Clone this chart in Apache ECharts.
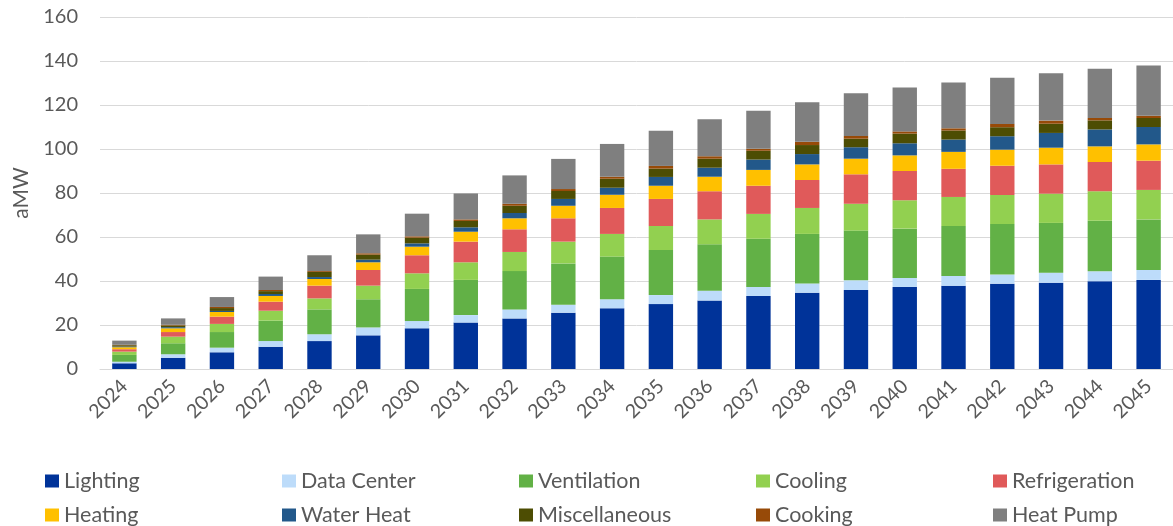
<!DOCTYPE html>
<html>
<head>
<meta charset="utf-8">
<script src="https://cdn.jsdelivr.net/npm/echarts@6/dist/echarts.min.js"></script>
<style>
    html, body { margin: 0; padding: 0; background: #fff; }
    #chart { width: 1173px; height: 526px; }
</style>
</head>
<body>
<div id="chart"></div>
<script>
    var years = ['2024', '2025', '2026', '2027', '2028', '2029', '2030', '2031', '2032', '2033', '2034',
        '2035', '2036', '2037', '2038', '2039', '2040', '2041', '2042', '2043', '2044', '2045'];

    var names = ['Lighting', 'Data Center', 'Ventilation', 'Cooling', 'Refrigeration',
        'Heating', 'Water Heat', 'Miscellaneous', 'Cooking', 'Heat Pump'];

    var colors = ['#003399', '#BDDCFA', '#62B146', '#92D050', '#E05A5A',
        '#FFC000', '#22588A', '#4D4D03', '#974A08', '#7F7F7F'];

    var lighting = [2.6, 5.1, 7.6, 10.1, 12.7, 15.3, 18.5, 21.1, 23.0, 25.6, 27.6,
        29.5, 31.1, 33.2, 34.7, 35.9, 37.3, 37.8, 38.8, 39.2, 39.9, 40.5];
    var dataCenter = [0.7, 1.6, 2.1, 2.6, 3.1, 3.6, 3.3, 3.4, 4.1, 3.6, 4.1,
        4.1, 4.5, 4.1, 4.2, 4.4, 4.1, 4.5, 4.1, 4.6, 4.5, 4.5];
    var ventilation = [3.1, 5.0, 7.1, 9.3, 11.3, 12.8, 14.6, 16.0, 17.4, 18.8, 19.4,
        20.5, 21.1, 21.9, 22.5, 22.6, 22.4, 22.7, 23.0, 22.6, 23.0, 23.0];
    var cooling = [1.5, 3.0, 3.7, 4.5, 5.0, 6.2, 7.1, 8.0, 8.7, 9.9, 10.3,
        10.9, 11.3, 11.3, 11.8, 12.2, 12.9, 13.2, 13.2, 13.3, 13.4, 13.4];
    var refrigeration = [1.1, 2.1, 3.3, 4.1, 5.8, 7.1, 8.2, 9.4, 10.3, 10.6, 11.8,
        12.3, 12.8, 12.8, 12.7, 13.4, 13.3, 12.8, 13.3, 13.3, 13.3, 13.3];
    var heating = [0.9, 1.7, 2.1, 2.6, 3.0, 3.5, 3.9, 4.5, 5.0, 5.7, 6.0,
        6.0, 6.6, 7.2, 7.1, 7.1, 7.1, 7.7, 7.3, 7.6, 7.1, 7.4];
    var waterHeat = [0.3, 0.5, 0.5, 0.9, 0.9, 1.2, 1.5, 2.0, 2.4, 3.1, 3.2,
        4.0, 4.1, 4.7, 4.7, 5.2, 5.5, 5.6, 6.1, 6.7, 7.7, 7.9];
    var misc = [0.6, 0.8, 1.3, 1.3, 2.3, 2.3, 2.6, 2.9, 3.3, 3.6, 4.1,
        3.8, 4.1, 4.0, 4.1, 3.9, 4.4, 4.1, 4.1, 4.2, 4.1, 4.1];
    var cooking = [0.2, 0.3, 0.5, 0.5, 0.4, 0.6, 0.6, 0.7, 0.9, 0.9, 0.9,
        1.2, 1.1, 0.9, 1.5, 1.2, 1.0, 1.0, 1.5, 1.4, 1.1, 1.0];
    var heatPump = [1.9, 2.9, 4.5, 6.1, 7.2, 8.6, 10.3, 11.8, 12.9, 13.7, 14.9,
        16.0, 16.8, 17.3, 17.9, 19.4, 19.9, 20.8, 21.0, 21.5, 22.4, 22.9];

    var values = [lighting, dataCenter, ventilation, cooling, refrigeration,
        heating, waterHeat, misc, cooking, heatPump];

    var textColor = '#595959';
    var font = 'Lato';

    var series = names.map(function (name, i) {
        return {
            name: name,
            type: 'bar',
            stack: 'total',
            barWidth: '50%',
            itemStyle: { color: colors[i] },
            data: values[i]
        };
    });

    // one legend per entry so the five columns sit on a fixed step
    var legends = names.map(function (name, i) {
        return {
            left: 40 + (i % 5) * 237,
            top: i < 5 ? 465 : 499,
            itemWidth: 14,
            itemHeight: 13,
            itemGap: 0,
            icon: 'rect',
            selectedMode: false,
            textStyle: { color: textColor, fontSize: 21.5, fontFamily: font },
            data: [name]
        };
    });

    var chart = echarts.init(document.getElementById('chart'));
    chart.setOption({
        animation: false,
        grid: { left: 100, top: 17, width: 1080, height: 352 },
        legend: legends,
        xAxis: {
            type: 'category',
            data: years,
            axisTick: { show: false },
            axisLine: { lineStyle: { color: '#d9d9d9' } },
            axisLabel: {
                rotate: 45,
                margin: 14,
                color: textColor,
                fontSize: 19.5,
                fontFamily: font
            }
        },
        yAxis: {
            type: 'value',
            min: 0,
            max: 160,
            interval: 20,
            name: 'aMW',
            nameLocation: 'middle',
            nameGap: 68,
            nameTextStyle: { color: textColor, fontSize: 21, fontFamily: font },
            axisLabel: { color: textColor, fontSize: 20, fontFamily: font, margin: 22 },
            splitLine: { lineStyle: { color: '#d9d9d9' } }
        },
        series: series
    });
</script>
</body>
</html>
